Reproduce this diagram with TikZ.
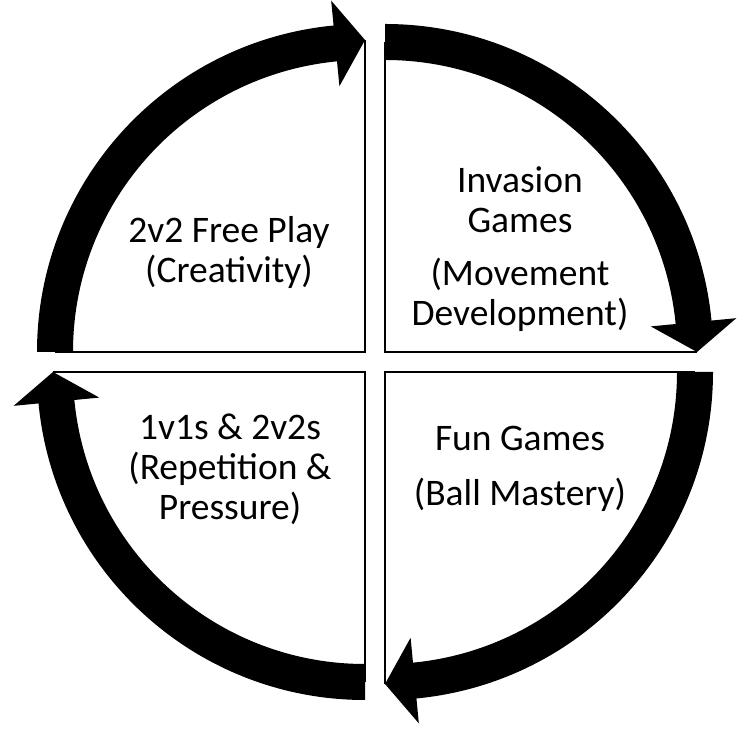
\documentclass[tikz,border=0pt]{standalone}
\usepackage{fontspec}
\setmainfont{Carlito}
\usetikzlibrary{calc}

\tikzset{
  sectorline/.style={draw=black, line width=2pt, line join=miter},
  cyclearrow/.style={fill=black},
  quadtext/.style={align=center, inner sep=0pt, font=\fontsize{37.5}{40}\selectfont}
}

\begin{document}
\begin{tikzpicture}[x=1pt,y=1pt]
  \useasboundingbox (0,0) rectangle (751,730);
  \coordinate (tl) at (365,378);
  \coordinate (tr) at (385,378);
  \coordinate (br) at (385,358);
  \coordinate (bl) at (365,358);

  % quadrant edges
  \draw[sectorline] ($(tl)+(180:310)$) -- (tl) -- ($(tl)+(90:312)$);
  \draw[sectorline] ($(tr)+(90:310)$) -- (tr) -- ($(tr)+(0:312)$);
  \draw[sectorline] ($(br)+(0:310)$) -- (br) -- ($(br)+(-90:312)$);
  \draw[sectorline] ($(bl)+(-90:310)$) -- (bl) -- ($(bl)+(180:312)$);

  % curved arrows, clockwise
  \fill[cyclearrow] ($(tl)+(180:328)$) arc[start angle=180, end angle=95.5, radius=328pt]
    -- ($(tl)+(95.5:353)$) -- ($(tl)+(90:312)$) -- ($(tl)+(95.5:267)$) -- ($(tl)+(95.5:292)$)
    arc[start angle=95.5, end angle=180, radius=292pt] -- cycle;
  \fill[cyclearrow] ($(tr)+(90:328)$) arc[start angle=90, end angle=5.5, radius=328pt]
    -- ($(tr)+(5.5:353)$) -- ($(tr)+(0:312)$) -- ($(tr)+(5.5:267)$) -- ($(tr)+(5.5:292)$)
    arc[start angle=5.5, end angle=90, radius=292pt] -- cycle;
  \fill[cyclearrow] ($(br)+(0:328)$) arc[start angle=0, end angle=-84.5, radius=328pt]
    -- ($(br)+(-84.5:353)$) -- ($(br)+(-90:312)$) -- ($(br)+(-84.5:267)$) -- ($(br)+(-84.5:292)$)
    arc[start angle=-84.5, end angle=0, radius=292pt] -- cycle;
  \fill[cyclearrow] ($(bl)+(270:328)$) arc[start angle=270, end angle=185.5, radius=328pt]
    -- ($(bl)+(185.5:353)$) -- ($(bl)+(180:312)$) -- ($(bl)+(185.5:267)$) -- ($(bl)+(185.5:292)$)
    arc[start angle=185.5, end angle=270, radius=292pt] -- cycle;

  % labels
  \node[quadtext] (freeplay) at (229,477) {2v2 Free Play\\(Creativity)};
  \node[quadtext] (invasion) at (520,481) {Invasion\\Games\\[13pt](Movement\\Development)};
  \node[quadtext] (fungames) at (520,261) {Fun Games\\[15pt](Ball Mastery)};
  \node[quadtext] (onevone) at (230,261) {1v1s \& 2v2s\\(Repetition \&\\Pressure)};
\end{tikzpicture}
\end{document}
